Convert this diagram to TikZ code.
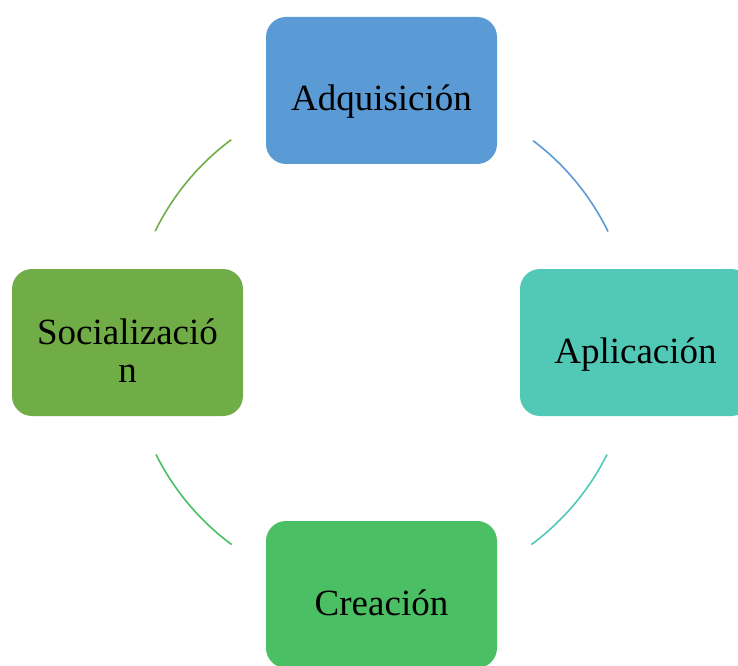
\documentclass[tikz,border=0pt]{standalone}
\usepackage{fontspec}
\setmainfont{Liberation Serif}
\definecolor{cAdq}{HTML}{5B9BD5}
\definecolor{cApl}{HTML}{52C9B7}
\definecolor{cCre}{HTML}{4ABF63}
\definecolor{cSoc}{HTML}{70AD47}
% text of a box, baseline lowered below the box centre
\newcommand{\lowtext}[2][20.5pt]{\raisebox{-#1}[0pt][0pt]{\begin{tabular}[t]{@{}c@{}}#2\end{tabular}}}
\tikzset{
  stagebox/.style={rectangle, rounded corners=20pt, minimum width=231pt,
    minimum height=147pt, inner sep=0pt,
    font=\fontsize{37}{38}\selectfont},
  cycleline/.style={line width=1.6pt}
}
\begin{document}
\begin{tikzpicture}[x=1pt,y=1pt]
	\useasboundingbox (0,0) rectangle (738,665);
	\coordinate (ctr) at (381.5,323);

	\node[stagebox, fill=cAdq] (adq) at (381.5,574.5) {\lowtext{Adquisición}};
	\node[stagebox, fill=cApl] (apl) at (635.5,322.5) {\lowtext{Aplicación}};
	\node[stagebox, fill=cCre] (cre) at (381.5,70.5) {\lowtext{Creación}};
	\node[stagebox, fill=cSoc] (soc) at (127.5,322.5) {\lowtext[1.5pt]{Socializació\\n}};

	% arcs of the cycle
	\draw[cycleline, cAdq] (ctr) ++(53:252) arc[start angle=53, end angle=26, radius=252];
	\draw[cycleline, cApl] (ctr) ++(-26.5:252) arc[start angle=-26.5, end angle=-53.5, radius=252];
	\draw[cycleline, cCre] (ctr) ++(233.5:252) arc[start angle=233.5, end angle=206.5, radius=252];
	\draw[cycleline, cSoc] (ctr) ++(153.9:252) arc[start angle=153.9, end angle=126.6, radius=252];
\end{tikzpicture}
\end{document}
